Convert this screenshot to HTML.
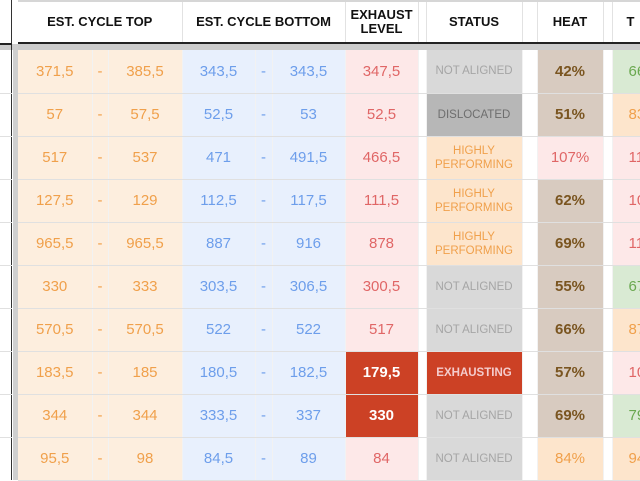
<!DOCTYPE html>
<html><head><meta charset="utf-8"><style>
*{margin:0;padding:0;box-sizing:border-box}
body{width:640px;height:480px;overflow:hidden;background:#fff;font-family:"Liberation Sans",Arial,sans-serif;position:relative}
table{border-collapse:collapse;table-layout:fixed;position:absolute}
td{text-align:center;vertical-align:middle;overflow:hidden;white-space:nowrap}
#hd{left:18px;top:0;width:622px;border-top:2px solid #d6d6d6}
#hd td{height:42px;font-size:13px;font-weight:bold;color:#111;border-right:1px solid #e2e2e2;border-bottom:2px solid #222;line-height:14px}
#bd{left:18px;top:50px;width:622px}
#bd td{height:43px;font-size:15px;border-bottom:1px solid #e0e0e0;border-right:1px solid rgba(0,0,0,0.05)}
.o{background:#fdeede;color:#f0a04b}
.b{background:#e8f0fd;color:#6d9eeb}
.p{background:#fde8e8;color:#e06666}
.r{background:#cc4125;color:#fff;font-weight:bold}
.g{background:#fff}
.na{background:#d9d9d9;color:#a5a5a5;font-size:11.5px!important}
.dl{background:#b7b7b7;color:#6e6e6e;font-size:11.5px!important}
.hp{background:#fde5cc;color:#f0a04b;font-size:11.5px!important;white-space:normal!important;line-height:14px}
.ex{background:#cc4125;color:#f4cccc;font-size:11.5px!important;font-weight:bold}
.h{background:#d8cbc0;color:#7a5520;font-weight:bold}
.hpk{background:#fde8e8;color:#e06666}
.hor{background:#fde5cc;color:#f0a04b}
.gr{background:#d9ead3;color:#6aa84f}
.t{text-align:left!important;padding-left:16px}
#left{position:absolute;left:0;top:0;width:12px;height:480px;border-right:1.5px solid #333}
#gs{position:absolute;left:13px;top:44px;width:5px;height:436px;background:#cfcfcf}
#band{position:absolute;left:0;top:44px;width:640px;height:6px;background:#cccccc}
.ln{position:absolute;left:0;width:12px;height:1px;background:#e0e0e0}
</style></head><body>
<div id="band"></div>
<table id="hd"><colgroup><col style="width:164px"><col style="width:163px"><col style="width:73px"><col style="width:8px"><col style="width:96px"><col style="width:15px"><col style="width:66px"><col style="width:9px"><col style="width:28px"></colgroup>
<tr><td>EST. CYCLE TOP</td><td>EST. CYCLE BOTTOM</td><td>EXHAUST<br>LEVEL</td><td></td><td>STATUS</td><td></td><td>HEAT</td><td></td><td style="text-align:left;padding-left:14px">T</td></tr></table>
<div id="left"></div><div id="gs"></div>
<div class="ln" style="top:43px;background:#222;height:2px"></div>
<div class="ln" style="top:93px"></div><div class="ln" style="top:136px"></div><div class="ln" style="top:179px"></div><div class="ln" style="top:222px"></div><div class="ln" style="top:265px"></div><div class="ln" style="top:308px"></div><div class="ln" style="top:351px"></div><div class="ln" style="top:394px"></div><div class="ln" style="top:437px"></div>
<table id="bd"><colgroup><col style="width:74px"><col style="width:16px"><col style="width:74px"><col style="width:73px"><col style="width:17px"><col style="width:73px"><col style="width:73px"><col style="width:8px"><col style="width:96px"><col style="width:15px"><col style="width:66px"><col style="width:9px"><col style="width:28px"></colgroup>
<tr><td class="o">371,5</td><td class="o">-</td><td class="o">385,5</td><td class="b">343,5</td><td class="b">-</td><td class="b">343,5</td><td class="p">347,5</td><td class="g"></td><td class="na">NOT ALIGNED</td><td class="g"></td><td class="h">42%</td><td class="g"></td><td class="gr t">66</td></tr>
<tr><td class="o">57</td><td class="o">-</td><td class="o">57,5</td><td class="b">52,5</td><td class="b">-</td><td class="b">53</td><td class="p">52,5</td><td class="g"></td><td class="dl">DISLOCATED</td><td class="g"></td><td class="h">51%</td><td class="g"></td><td class="hor t">83</td></tr>
<tr><td class="o">517</td><td class="o">-</td><td class="o">537</td><td class="b">471</td><td class="b">-</td><td class="b">491,5</td><td class="p">466,5</td><td class="g"></td><td class="hp">HIGHLY<br>PERFORMING</td><td class="g"></td><td class="hpk">107%</td><td class="g"></td><td class="p t">11</td></tr>
<tr><td class="o">127,5</td><td class="o">-</td><td class="o">129</td><td class="b">112,5</td><td class="b">-</td><td class="b">117,5</td><td class="p">111,5</td><td class="g"></td><td class="hp">HIGHLY<br>PERFORMING</td><td class="g"></td><td class="h">62%</td><td class="g"></td><td class="p t">10</td></tr>
<tr><td class="o">965,5</td><td class="o">-</td><td class="o">965,5</td><td class="b">887</td><td class="b">-</td><td class="b">916</td><td class="p">878</td><td class="g"></td><td class="hp">HIGHLY<br>PERFORMING</td><td class="g"></td><td class="h">69%</td><td class="g"></td><td class="p t">11</td></tr>
<tr><td class="o">330</td><td class="o">-</td><td class="o">333</td><td class="b">303,5</td><td class="b">-</td><td class="b">306,5</td><td class="p">300,5</td><td class="g"></td><td class="na">NOT ALIGNED</td><td class="g"></td><td class="h">55%</td><td class="g"></td><td class="gr t">67</td></tr>
<tr><td class="o">570,5</td><td class="o">-</td><td class="o">570,5</td><td class="b">522</td><td class="b">-</td><td class="b">522</td><td class="p">517</td><td class="g"></td><td class="na">NOT ALIGNED</td><td class="g"></td><td class="h">66%</td><td class="g"></td><td class="hor t">87</td></tr>
<tr><td class="o">183,5</td><td class="o">-</td><td class="o">185</td><td class="b">180,5</td><td class="b">-</td><td class="b">182,5</td><td class="r">179,5</td><td class="g"></td><td class="ex">EXHAUSTING</td><td class="g"></td><td class="h">57%</td><td class="g"></td><td class="p t">10</td></tr>
<tr><td class="o">344</td><td class="o">-</td><td class="o">344</td><td class="b">333,5</td><td class="b">-</td><td class="b">337</td><td class="r">330</td><td class="g"></td><td class="na">NOT ALIGNED</td><td class="g"></td><td class="h">69%</td><td class="g"></td><td class="gr t">79</td></tr>
<tr><td class="o">95,5</td><td class="o">-</td><td class="o">98</td><td class="b">84,5</td><td class="b">-</td><td class="b">89</td><td class="p">84</td><td class="g"></td><td class="na">NOT ALIGNED</td><td class="g"></td><td class="hor">84%</td><td class="g"></td><td class="hor t">94</td></tr>
</table>
</body></html>
